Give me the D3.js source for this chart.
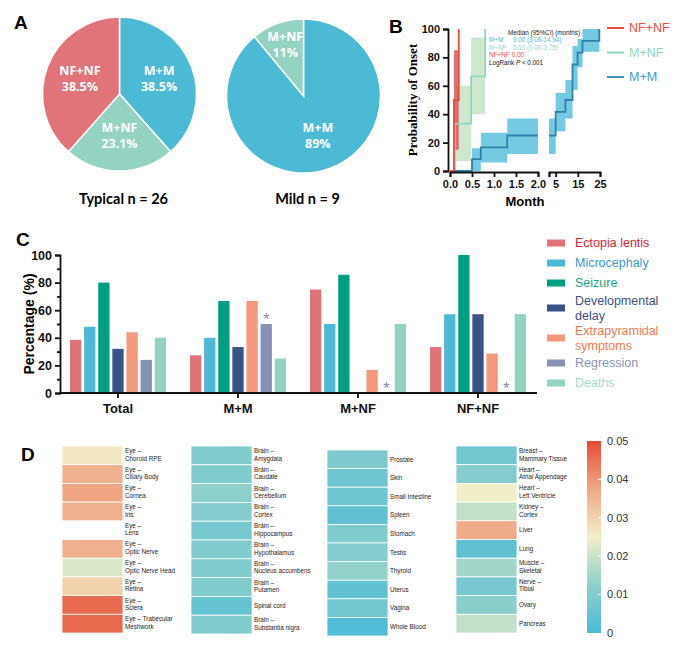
<!DOCTYPE html>
<html>
<head>
<meta charset="utf-8">
<script src="https://cdn.jsdelivr.net/npm/d3@7"></script>
<style>
  body { margin: 0; background: #fff; }
  svg { display: block; font-family: "Liberation Sans", Arial, sans-serif; }
</style>
</head>
<body>
<div id="chart"></div>
<script>
var svgWidth = 685;
var svgHeight = 658;

// ---- panel A data
var pieGroups = ["M+M", "M+NF", "NF+NF"];
var typicalShare = [38.5, 23.1, 38.5];
var mildShare = [89, 11, 0];
var pieColors = ["#4cb9d5", "#94d2c1", "#e0747a"];

// ---- panel B data (Kaplan-Meier style steps, months / %)
var mmTimes = [0, 0.5, 0.7, 1.3, 5, 9.4, 12.6, 14.9, 17.1, 24.7];
var mmOnset = [0, 8.3, 16.7, 25, 41.7, 50, 75, 83.3, 91.7, 100];
var mmLower = [0, 0, 6, 12, 28, 37, 57, 73, 84, 100];
var mmUpper = [0, 16, 27, 37, 55, 64, 88, 93, 100, 100];
var mnfTimes = [0, 0.11, 0.48, 0.8];
var mnfOnset = [0, 33.3, 66.7, 100];
var mnfLower = [0, 7, 40, 100];
var mnfUpper = [0, 60, 94, 100];
var nfTimes = [0, 0.09, 0.2];
var nfOnset = [0, 50, 100];
var nfLower = [0, 15, 100];
var nfUpper = [0, 85, 100];
var kmLegend = ["NF+NF", "M+NF", "M+M"];
var kmNotes = ["M+M", "M+NF", "NF+NF"];
var kmMedians = ["9.00 (3.06-14.94)", "0.10 (0.00-3.75)", "0.00"];

// ---- panel C data
var groupsC = ["Total", "M+M", "M+NF", "NF+NF"];
var symptoms = ["Ectopia lentis", "Microcephaly", "Seizure", "Developmental delay",
                "Extrapyramidal symptoms", "Regression", "Deaths"];
var ectopiaPct = [38.5, 27.3, 75, 33.3];
var microPct = [48, 40, 50, 57.1];
var seizurePct = [80, 66.7, 85.7, 100];
var delayPct = [32, 33.3, 0, 57.1];
var extraPct = [44, 66.7, 16.7, 28.6];
var regressPct = [24, 50, 0, 0];
var deathPct = [40, 25, 50, 57.1];
var regressStar = [false, true, true, true];

// ---- panel D data
var col1Tissues = ["Eye –\nChoroid RPE", "Eye –\nCiliary Body", "Eye –\nCornea", "Eye –\nIris", "Eye –\nLens",
  "Eye –\nOptic Nerve", "Eye –\nOptic Nerve Head", "Eye –\nRetina", "Eye –\nSclera", "Eye – Trabecular\nMeshwork"];
var col1Values = [0.026, 0.036, 0.038, 0.036, null, 0.036, 0.022, 0.030, 0.046, 0.046];
var col2Tissues = ["Brain –\nAmygdala", "Brain –\nCaudate", "Brain –\nCerebellum", "Brain –\nCortex", "Brain –\nHippocampus",
  "Brain –\nHypothalamus", "Brain –\nNucleus accumbens", "Brain –\nPutamen", "Spinal cord", "Brain –\nSubstantia nigra"];
var col2Values = [0.010, 0.0095, 0.012, 0.0105, 0.008, 0.0095, 0.0095, 0.010, 0.005, 0.010];
var col3Tissues = ["Prostate", "Skin", "Small Intestine", "Spleen", "Stomach",
  "Testis", "Thyroid", "Uterus", "Vagina", "Whole Blood"];
var col3Values = [0.009, 0.006, 0.006, 0.004, 0.0095, 0.0105, 0.013, 0.0045, 0.007, 0.001];
var col4Tissues = ["Breast –\nMammary Tissue", "Heart –\nAtrial Appendage", "Heart –\nLeft Ventricle", "Kidney –\nCortex", "Liver",
  "Lung", "Muscle –\nSkeletal", "Nerve –\nTibial", "Ovary", "Pancreas"];
var col4Values = [0.007, 0.0105, 0.025, 0.019, 0.037, 0.004, 0.015, 0.008, 0.0115, 0.019];
var colorTicks = [0, 0.01, 0.02, 0.03, 0.04, 0.05];

var svg = d3.select("#chart")
  .append("svg")
  .attr("width", svgWidth)
  .attr("height", svgHeight);

function panelLabel(txt, x, y) {
  svg.append("text").attr("x", x).attr("y", y)
    .attr("font-size", 19).attr("font-weight", "bold").text(txt);
}
panelLabel("A", 14, 29);
panelLabel("B", 389, 33);
panelLabel("C", 16, 246);
panelLabel("D", 21, 461);

// ================= A: pies
var pie = d3.pie().sort(null).value(d => d.v);
var pieR = 77;
var arc = d3.arc().innerRadius(0).outerRadius(pieR);

function drawPie(share, cx, cy, title) {
  var data = pieGroups.map((g, i) => ({ g: g, v: share[i], c: pieColors[i] }));
  var g = svg.append("g").attr("transform", `translate(${cx},${cy})`);
  var arcs = pie(data).filter(d => d.data.v > 0);
  g.selectAll("path").data(arcs).enter().append("path")
    .attr("d", arc)
    .attr("fill", d => d.data.c)
    .attr("stroke", "#fff")
    .attr("stroke-width", 1.5);
  var lab = g.selectAll("g.lab").data(arcs).enter().append("g")
    .attr("transform", function (d) {
      var a = (d.startAngle + d.endAngle) / 2;
      var r = (d.endAngle - d.startAngle) < 1 ? pieR * 0.7 : pieR * 0.55;
      return `translate(${Math.sin(a) * r},${-Math.cos(a) * r})`;
    });
  lab.append("text").attr("y", -4).text(d => d.data.g);
  lab.append("text").attr("y", 12).text(d => d.data.v + "%");
  lab.selectAll("text")
    .attr("text-anchor", "middle")
    .attr("fill", "#fff")
    .attr("font-family", "'Open Sans', sans-serif")
    .attr("font-weight", "bold")
    .attr("font-size", 12.5);
  svg.append("text").attr("x", cx + 4).attr("y", 204)
    .attr("text-anchor", "middle")
    .attr("font-family", "Lato, sans-serif")
    .attr("font-weight", "bold")
    .attr("font-size", 14.5)
    .text(title);
}
drawPie(typicalShare, 119.5, 94, "Typical n = 26");
drawPie(mildShare, 303.5, 96, "Mild n = 9");

// ================= B: onset curves
var yB = d3.scaleLinear().domain([0, 100]).range([171, 29]);
var xB1 = d3.scaleLinear().domain([0, 2]).range([450, 538]);
var xB2 = d3.scaleLinear().domain([2, 25]).range([549, 600]);

var kmSeries = [
  { name: "M+NF", t: mnfTimes, v: mnfOnset, lo: mnfLower, hi: mnfUpper, line: "#8fd6c1", band: "#c4e4c4", bandOp: 0.85 },
  { name: "M+M", t: mmTimes, v: mmOnset, lo: mmLower, hi: mmUpper, line: "#2f81a8", band: "#52bcdb", bandOp: 0.8 },
  { name: "NF+NF", t: nfTimes, v: nfOnset, lo: nfLower, hi: nfUpper, line: "#f04a3a", band: "#dc4e57", bandOp: 0.8 }
];

function segPoints(km, t0, t1) {
  var pts = [];
  km.t.forEach(function (t, i) {
    var last = i + 1 >= km.t.length;
    var next = last ? t : km.t[i + 1];
    if (t > t1) return;
    if (!last && next <= t0) return;
    if (last && t < t0) return;
    pts.push({ t: Math.max(t, t0), v: km.v[i], lo: km.lo[i], hi: km.hi[i] });
  });
  if (pts.length && km.t[km.t.length - 1] > t1) {
    var p = pts[pts.length - 1];
    pts.push({ t: t1, v: p.v, lo: p.lo, hi: p.hi });
  }
  return pts;
}

var segs = [{ x: xB1, t0: 0, t1: 2 }, { x: xB2, t0: 2, t1: 25 }];
var gB = svg.append("g");
// bands first
kmSeries.forEach(function (km) {
  segs.forEach(function (s) {
    var pts = segPoints(km, s.t0, s.t1);
    if (pts.length < 2) return;
    gB.append("path").datum(pts)
      .attr("d", d3.area().x(d => s.x(d.t)).y0(d => yB(d.lo)).y1(d => yB(d.hi)).curve(d3.curveStepAfter))
      .attr("fill", km.band).attr("opacity", km.bandOp);
  });
});
kmSeries.forEach(function (km) {
  segs.forEach(function (s) {
    var pts = segPoints(km, s.t0, s.t1);
    if (pts.length < 2) return;
    gB.append("path").datum(pts)
      .attr("d", d3.line().x(d => s.x(d.t)).y(d => yB(d.v)).curve(d3.curveStepAfter))
      .attr("fill", "none").attr("stroke", km.line).attr("stroke-width", 1.8);
  });
});

function styleAxis(g, size) {
  g.selectAll("path.domain").attr("stroke", "#111").attr("stroke-width", 1.8);
  g.selectAll(".tick line").attr("stroke", "#111").attr("stroke-width", 1.8);
  g.selectAll(".tick text").attr("font-size", size).attr("font-weight", "bold")
    .attr("fill", "#111").attr("font-family", "'Liberation Sans', Arial, sans-serif");
}

var yAxisB = svg.append("g").attr("transform", "translate(448,0)")
  .call(d3.axisLeft(yB).tickValues([0, 20, 40, 60, 80, 100]).tickSizeOuter(0).tickSize(5).tickPadding(3));
styleAxis(yAxisB, 11);
var xAxisB1 = svg.append("g").attr("transform", "translate(0,172)")
  .call(d3.axisBottom(xB1).tickValues([0, 0.5, 1, 1.5, 2]).tickFormat(d3.format(".1f")).tickSizeOuter(0).tickSize(5).tickPadding(3));
styleAxis(xAxisB1, 11);
var xAxisB2 = svg.append("g").attr("transform", "translate(0,172)")
  .call(d3.axisBottom(xB2).tickValues([2, 5, 15, 25]).tickFormat(d => d === 2 ? "" : d).tickSizeOuter(0).tickSize(5).tickPadding(3));
styleAxis(xAxisB2, 11);

svg.append("text")
  .attr("transform", "translate(417,100) rotate(-90)")
  .attr("text-anchor", "middle")
  .attr("font-family", "'Liberation Serif', 'Times New Roman', serif")
  .attr("font-weight", "bold").attr("font-size", 13)
  .text("Probability of Onset");
svg.append("text").attr("x", 525).attr("y", 206)
  .attr("text-anchor", "middle").attr("font-weight", "bold").attr("font-size", 13)
  .text("Month");

// median annotation
var kmNoteColor = { "M+M": "#4cb9d5", "M+NF": "#8fd6c1", "NF+NF": "#f04a3a" };
var notes = svg.append("g").attr("font-size", 6.3);
notes.append("text").attr("x", 508).attr("y", 34.5).attr("fill", "#222").text("Median (95%CI) (months)");
kmNotes.forEach(function (n, i) {
  notes.append("text").attr("x", 489).attr("y", 42 + i * 7.6).attr("fill", kmNoteColor[n]).text(n);
  notes.append("text").attr("x", n === "NF+NF" ? 512 : 513).attr("y", 42 + i * 7.6).attr("fill", kmNoteColor[n]).text(kmMedians[i]);
});
var lr = notes.append("text").attr("x", 489).attr("y", 65).attr("fill", "#111");
lr.append("tspan").text("LogRank ");
lr.append("tspan").attr("font-style", "italic").text("P");
lr.append("tspan").text(" < 0.001");

// legend B
kmLegend.forEach(function (n, i) {
  var km = kmSeries.find(k => k.name === n);
  var y = 28 + i * 24.5;
  svg.append("line").attr("x1", 607).attr("x2", 624).attr("y1", y).attr("y2", y)
    .attr("stroke", n === "M+M" ? "#3a93bd" : km.line).attr("stroke-width", 2);
  svg.append("text").attr("x", 629).attr("y", y).attr("dy", "0.35em")
    .attr("font-size", 12.5).attr("fill", n === "M+M" ? "#3a9cc8" : km.line).text(n);
});

// ================= C: grouped bars
var symptomValues = [ectopiaPct, microPct, seizurePct, delayPct, extraPct, regressPct, deathPct];
var barColors = ["#e0737a", "#4db9d6", "#009e80", "#3b5488", "#f39a7e", "#8592b6", "#93d3c2"];
var legendColors = ["#e3232c", "#3a97c9", "#17a586", "#3c4f8c", "#f57a4d", "#8a93b8", "#9fdbc8"];
var legendLines = [["Ectopia lentis"], ["Microcephaly"], ["Seizure"], ["Developmental", "delay"],
                   ["Extrapyramidal", "symptoms"], ["Regression"], ["Deaths"]];

var x0 = d3.scaleBand().domain(groupsC).range([58, 538]).paddingInner(0.2).paddingOuter(0.1);
var x1 = d3.scaleBand().domain(symptoms).range([0, x0.bandwidth()]).paddingInner(0.2);
var yC = d3.scaleLinear().domain([0, 100]).range([393, 255]);

var gC = svg.append("g");
groupsC.forEach(function (grp, gi) {
  symptoms.forEach(function (s, si) {
    var v = symptomValues[si][gi];
    if (v > 0) {
      gC.append("rect")
        .attr("x", x0(grp) + x1(s))
        .attr("y", yC(v))
        .attr("width", x1.bandwidth())
        .attr("height", yC(0) - yC(v))
        .attr("fill", barColors[si]);
    }
  });
  if (regressStar[gi]) {
    gC.append("text")
      .attr("x", x0(grp) + x1("Regression") + x1.bandwidth() / 2)
      .attr("y", yC(regressPct[gi]) + 1)
      .attr("text-anchor", "middle").attr("font-size", 17).attr("fill", "#8592b6")
      .text("*");
  }
});

var yAxisC = svg.append("g").attr("transform", "translate(60,0)")
  .call(d3.axisLeft(yC).tickValues(d3.range(0, 101, 10)).tickFormat(d => d % 20 === 0 ? d : "").tickSizeOuter(0).tickSize(5).tickPadding(3));
styleAxis(yAxisC, 12.5);
yAxisC.selectAll(".tick").filter(d => d % 20 !== 0).select("line").attr("x2", -3);
var xAxisC = svg.append("g").attr("transform", "translate(0,393)")
  .call(d3.axisBottom(x0).tickSizeOuter(0).tickSize(5).tickPadding(6));
xAxisC.select("path.domain").attr("d", "M60,0H537");
styleAxis(xAxisC, 13);

svg.append("text")
  .attr("transform", "translate(34,324) rotate(-90)")
  .attr("text-anchor", "middle").attr("font-weight", "bold").attr("font-size", 14)
  .text("Percentage (%)");

var legY = 243;
legendLines.forEach(function (lines, i) {
  if (i > 0) legY += 20 + 5 * (legendLines[i - 1].length - 1) + 5 * (lines.length - 1);
  svg.append("rect").attr("x", 547).attr("y", legY - 3.5).attr("width", 18).attr("height", 7)
    .attr("fill", barColors[i]);
  lines.forEach(function (ln, li) {
    svg.append("text").attr("x", 575)
      .attr("y", legY + (li - (lines.length - 1) / 2) * 14.5)
      .attr("dy", "0.35em").attr("font-size", 12.5).attr("fill", legendColors[i]).text(ln);
  });
});

// ================= D: heatmap
var heatColor = d3.scaleLinear()
  .domain([0, 0.0125, 0.025, 0.0375, 0.05])
  .range(["#4bbad6", "#8fd0cb", "#f2eec8", "#efa985", "#e64b36"]);

var heatCols = [
  { tissues: col1Tissues, values: col1Values, x: 62, top: 446, bottom: 633 },
  { tissues: col2Tissues, values: col2Values, x: 191, top: 446, bottom: 634 },
  { tissues: col3Tissues, values: col3Values, x: 327, top: 450, bottom: 636 },
  { tissues: col4Tissues, values: col4Values, x: 456, top: 446, bottom: 633 }
];
var cellW = 61;

heatCols.forEach(function (col) {
  var yRow = d3.scaleBand().domain(col.tissues).range([col.top, col.bottom]);
  var g = svg.append("g");
  col.tissues.forEach(function (t, i) {
    var v = col.values[i];
    if (v !== null) {
      g.append("rect")
        .attr("x", col.x).attr("y", yRow(t))
        .attr("width", cellW).attr("height", yRow.bandwidth())
        .attr("fill", heatColor(v))
        .attr("stroke", "#fff").attr("stroke-width", 0.8);
    }
    var lines = t.split("\n");
    var cy = yRow(t) + yRow.bandwidth() / 2;
    lines.forEach(function (ln, li) {
      g.append("text")
        .attr("x", col.x + cellW + 2)
        .attr("y", cy + (li - (lines.length - 1) / 2) * 7.6 - (lines.length > 1 ? 0.8 : 0))
        .attr("dy", "0.35em")
        .attr("font-size", 6.3).attr("fill", "#222")
        .text(ln);
    });
  });
});

// colour bar
var cbScale = d3.scaleLinear().domain([0, 0.05]).range([633, 441]);
var grad = svg.append("defs").append("linearGradient").attr("id", "cbGrad")
  .attr("x1", 0).attr("y1", 1).attr("x2", 0).attr("y2", 0);
d3.range(0, 1.0001, 0.05).forEach(function (f) {
  grad.append("stop").attr("offset", f).attr("stop-color", heatColor(f * 0.05));
});
svg.append("rect").attr("x", 587).attr("y", 441).attr("width", 14).attr("height", 192)
  .attr("fill", "url(#cbGrad)");
colorTicks.forEach(function (t) {
  if (t > 0 && t < 0.05) {
    svg.append("line").attr("x1", 598).attr("x2", 603)
      .attr("y1", cbScale(t)).attr("y2", cbScale(t))
      .attr("stroke", "#fff").attr("stroke-width", 1);
  }
  svg.append("text").attr("x", 607).attr("y", cbScale(t)).attr("dy", "0.35em")
    .attr("font-size", 11).attr("fill", "#333")
    .text(t === 0 ? "0" : d3.format(".2f")(t));
});
</script>
</body>
</html>
